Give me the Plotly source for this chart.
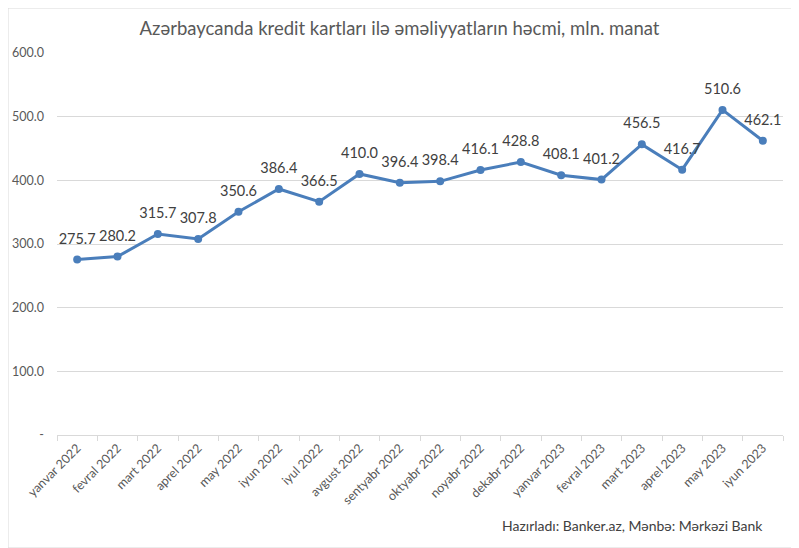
import plotly.graph_objs as go

months = ["yanvar 2022", "fevral 2022", "mart 2022", "aprel 2022", "may 2022", "iyun 2022",
          "iyul 2022", "avgust 2022", "sentyabr 2022", "oktyabr 2022", "noyabr 2022", "dekabr 2022",
          "yanvar 2023", "fevral 2023", "mart 2023", "aprel 2023", "may 2023", "iyun 2023"]
volume = [275.7, 280.2, 315.7, 307.8, 350.6, 386.4, 366.5, 410.0, 396.4,
          398.4, 416.1, 428.8, 408.1, 401.2, 456.5, 416.7, 510.6, 462.1]
y_ticks = [0, 100, 200, 300, 400, 500, 600]
y_labels = ["-", "100.0", "200.0", "300.0", "400.0", "500.0", "600.0"]

FONT = "Lato, 'Open Sans', sans-serif"
# page body has an 8px margin, so the figure is sized/placed to compensate
OFF = 8
W, H = 799 - OFF, 548 - OFF
L, R, T = 57 - OFF, 16, 53 - OFF
B = H - T - (435 - 53)
pw = W - L - R
ph = H - T - B

fig = go.Figure()
fig.add_trace(go.Scatter(
    x=months,
    y=volume,
    mode="lines+markers",
    line=dict(color="#4a7ebb", width=3),
    marker=dict(color="#4a7ebb", size=8),
    hovertemplate="%{x}: %{y:.1f}<extra></extra>",
))
# value labels (transparent bigger markers to push the text up a bit)
fig.add_trace(go.Scatter(
    x=months,
    y=volume,
    mode="markers+text",
    marker=dict(color="rgba(0,0,0,0)", size=18),
    text=[f"{v:.1f}" for v in volume],
    textposition="top center",
    textfont=dict(family=FONT, size=14.5, color="#404040"),
    cliponaxis=False,
    hoverinfo="skip",
))

fig.update_layout(
    width=W, height=H,
    margin=dict(l=L, r=R, t=T, b=B, autoexpand=False),
    paper_bgcolor="white",
    plot_bgcolor="white",
    showlegend=False,
    font=dict(family=FONT, color="#595959"),
    title=dict(
        text="Azərbaycanda kredit kartları ilə əməliyyatların həcmi, mln. manat",
        x=(399.5 - OFF) / W, xanchor="center", y=1 - (29 - OFF) / H, yanchor="middle",
        font=dict(family=FONT, size=18.5, color="#595959"),
    ),
    xaxis=dict(
        type="category",
        automargin=False,
        tickangle=-45,
        tickfont=dict(family=FONT, size=12.5, color="#595959"),
        showgrid=False,
        showline=True,
        linecolor="#d9d9d9",
        linewidth=1,
        ticks="outside",
        tickson="boundaries",
        ticklen=5,
        tickcolor="#d9d9d9",
        range=[-0.5, len(months) - 0.5],
    ),
    yaxis=dict(
        automargin=False,
        range=[0, 600],
        tickvals=y_ticks,
        ticktext=y_labels,
        tickfont=dict(family=FONT, size=12.5, color="#595959"),
        showgrid=True,
        gridcolor="#d9d9d9",
        gridwidth=1,
        zeroline=False,
        showline=False,
        ticks="",
        ticklabelstandoff=12,
    ),
)

fig.add_annotation(
    text="Hazırladı: Banker.az, Mənbə: Mərkəzi Bank",
    xref="paper", yref="paper",
    x=(765 - OFF - L) / pw, y=-(525 - OFF - (H - B)) / ph,
    xanchor="right", yanchor="middle",
    showarrow=False,
    font=dict(family=FONT, size=14, color="#404040"),
)

# chart border
fig.add_shape(
    type="rect", xref="paper", yref="paper",
    x0=-L / pw, x1=1 + (R - 1) / pw,
    y0=-B / ph, y1=1 + T / ph,
    line=dict(color="#d9d9d9", width=1),
)

fig.write_html("out.html")
